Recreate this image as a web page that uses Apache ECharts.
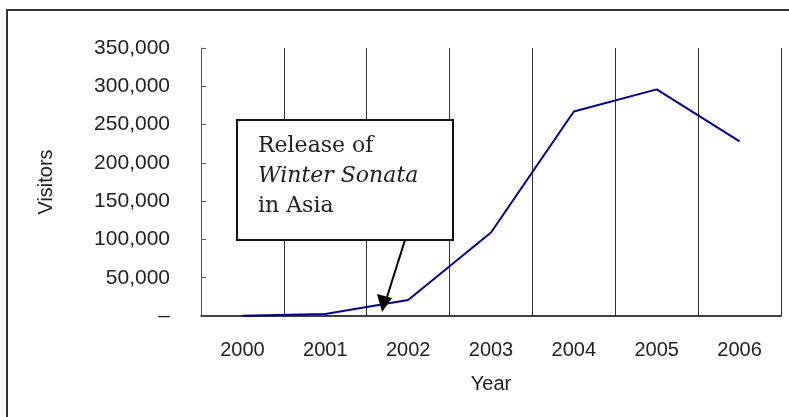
<!DOCTYPE html>
<html>
<head>
<meta charset="utf-8">
<script src="https://cdn.jsdelivr.net/npm/echarts@6/dist/echarts.min.js"></script>
<style>
  html, body { margin: 0; padding: 0; background: #fff; }
  #chart { width: 789px; height: 417px; }
</style>
</head>
<body>
<div id="chart"></div>
<script>
// data
const years = ["2000", "2001", "2002", "2003", "2004", "2005", "2006"];
const visitors = [300, 2500, 21000, 109000, 267000, 296000, 228000];
const yTicks = [0, 50000, 100000, 150000, 200000, 250000, 300000, 350000];

const chart = echarts.init(document.getElementById("chart"));

const labelFont = "Liberation Sans, Arial, sans-serif";
const noteFont = "DejaVu Serif, serif";

const option = {
  animation: false,
  backgroundColor: "#fff",
  grid: { left: 201, right: 8, top: 48, bottom: 101 },
  xAxis: {
    type: "category",
    data: years,
    boundaryGap: true,
    name: "Year",
    nameLocation: "middle",
    nameGap: 58,
    nameTextStyle: { fontFamily: labelFont, fontSize: 20, color: "#222" },
    axisLine: { lineStyle: { color: "#000", width: 1.5 } },
    axisTick: { show: false },
    axisLabel: { margin: 24, fontFamily: labelFont, fontSize: 20, color: "#222" },
    splitLine: { show: true, lineStyle: { color: "#333", width: 1 } }
  },
  yAxis: {
    type: "value",
    min: yTicks[0],
    max: yTicks[yTicks.length - 1],
    interval: yTicks[1] - yTicks[0],
    name: "Visitors",
    nameLocation: "middle",
    nameGap: 145,
    nameRotate: 90,
    nameTextStyle: { fontFamily: labelFont, fontSize: 20, color: "#222" },
    axisLine: { show: true, lineStyle: { color: "#555", width: 1 } },
    axisTick: { show: true, inside: true, length: 5, lineStyle: { color: "#555" } },
    axisLabel: {
      margin: 31,
      fontFamily: labelFont,
      fontSize: 21,
      color: "#222",
      formatter: function (v) {
        return v === 0 ? "\u2013" : v.toLocaleString("en-US");
      }
    },
    splitLine: { show: false }
  },
  series: [
    {
      type: "line",
      data: visitors,
      symbol: "none",
      lineStyle: { color: "#00008b", width: 2 }
    }
  ],
  graphic: [
    {
      type: "rect",
      shape: { x: 7, y: 10, width: 800, height: 420 },
      style: { fill: "none", stroke: "#333", lineWidth: 2 },
      silent: true
    },
    {
      type: "rect",
      shape: { x: 237, y: 120, width: 216, height: 120 },
      style: { fill: "#fff", stroke: "#111", lineWidth: 2 },
      z: 10
    },
    {
      type: "text",
      x: 258,
      y: 131,
      z: 11,
      style: {
        text: "{n|Release of}\n{i|Winter Sonata}\n{n|in Asia}",
        fill: "#222",
        rich: {
          n: { fontFamily: noteFont, fontSize: 22, lineHeight: 30, fill: "#222" },
          i: { fontFamily: noteFont, fontSize: 22, fontStyle: "italic", lineHeight: 30, fill: "#222" }
        }
      }
    },
    {
      type: "line",
      z: 11,
      shape: { x1: 405, y1: 240, x2: 387, y2: 297 },
      style: { stroke: "#000", lineWidth: 2 }
    },
    {
      type: "polygon",
      z: 11,
      shape: { points: [[382, 312], [377, 294], [392, 298]] },
      style: { fill: "#000" }
    }
  ]
};

chart.setOption(option);
</script>
</body>
</html>
